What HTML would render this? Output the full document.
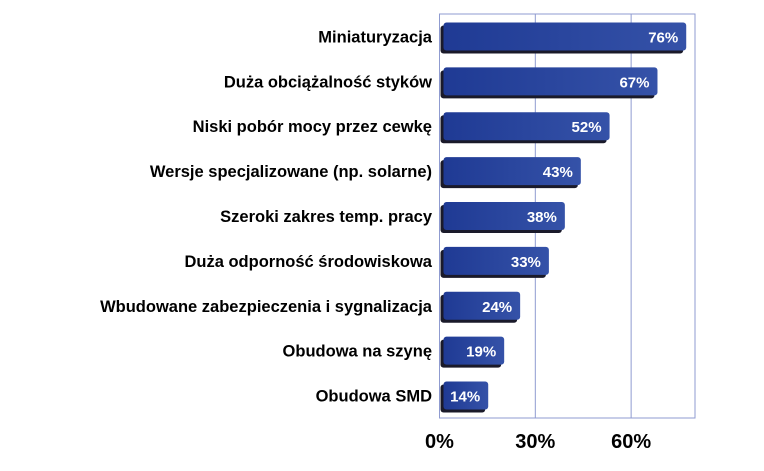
<!DOCTYPE html>
<html><head><meta charset="utf-8"><style>
body{margin:0;background:#fff;width:764px;height:466px;overflow:hidden;font-family:"Liberation Sans",sans-serif}
</style></head><body>
<svg width="764" height="466" id="chart">
<defs>
<linearGradient id="g" x1="0" x2="1" y1="0" y2="0"><stop offset="0" stop-color="#1f3a94"/><stop offset="1" stop-color="#3552a8"/></linearGradient>
</defs>
</svg>
<script>
const categories=["Miniaturyzacja","Duża obciążalność styków","Niski pobór mocy przez cewkę","Wersje specjalizowane (np. solarne)","Szeroki zakres temp. pracy","Duża odporność środowiskowa","Wbudowane zabezpieczenia i sygnalizacja","Obudowa na szynę","Obudowa SMD"];
const values=[76,67,52,43,38,33,24,19,14];
const ticks=[0,30,60];
const tickLabels=["0%","30%","60%"];
const svg=document.getElementById('chart');
const NS='http://www.w3.org/2000/svg';
const L=439.5,R=695,T=14,B=418,MAX=80;
const x=v=>L+(v/MAX)*(R-L);
const band=(B-T)/categories.length;
const yc=i=>T+band*(i+0.5);
function mk(t,a,p){const e=document.createElementNS(NS,t);for(const k in a)e.setAttribute(k,a[k]);(p||svg).appendChild(e);return e;}
const frame=mk('rect',{x:L,y:T,width:R-L,height:B-T,fill:'none',stroke:'#8f9bd0','stroke-width':1});


ticks.forEach((t,i)=>{
  if(t>0){const g=mk('line',{x1:x(t),x2:x(t),y1:T,y2:B,stroke:'#8f9bd0','stroke-width':1});
  
  }
  const tl=mk('text',{x:x(t),y:448,'text-anchor':'middle','font-size':20,'font-weight':'bold',fill:'#000'});
  tl.textContent=tickLabels[i];
  
  
});
categories.forEach((c,i)=>{
  const cy=yc(i),h=28,w=x(values[i])-L;
  const sh=mk('rect',{x:L+1,y:cy-h/2+3,width:w,height:h,rx:3,fill:'#1a1a2a'});
  
  
  const b=mk('rect',{x:L+4,y:cy-h/2,width:w,height:h,rx:3,fill:'url(#g)'});
  
  
  const v=mk('text',{x:L+w-4,y:cy+6,'text-anchor':'end','font-size':15,'font-weight':'bold',fill:'#fff'});
  v.textContent=values[i]+'%';
  
  
  const lb=mk('text',{x:432,y:cy+6,'text-anchor':'end','font-size':16.5,'font-weight':'bold',fill:'#000'});
  lb.textContent=c;
  
  
});
</script>
</body></html>
